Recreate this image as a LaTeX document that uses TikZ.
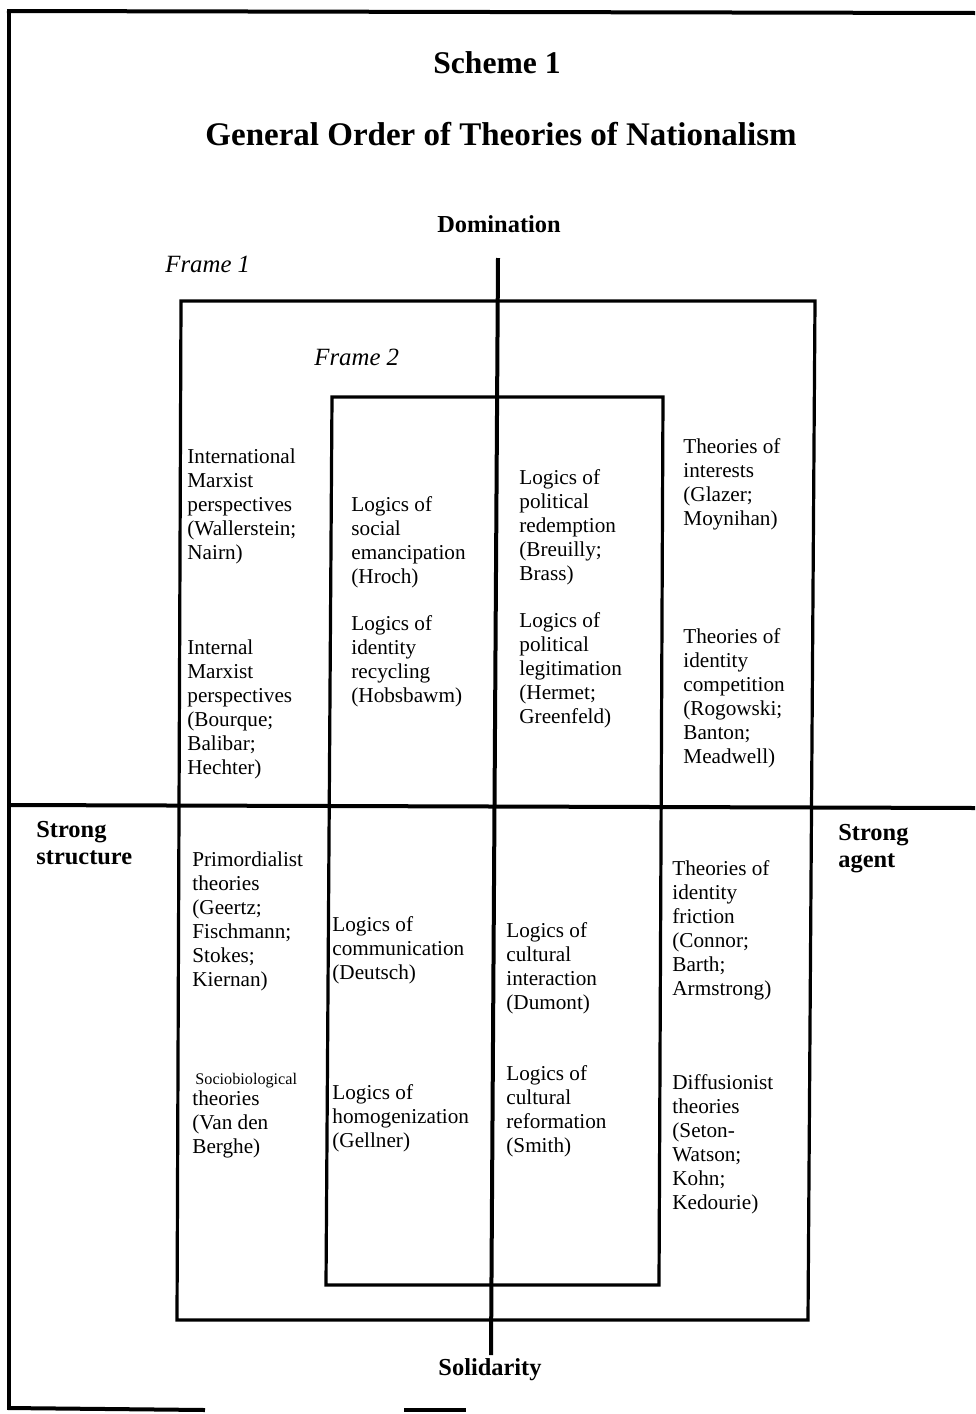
\documentclass[tikz,border=0pt]{standalone}
\usepackage{fontspec}
\setmainfont{Liberation Serif}
\begin{document}
\begin{tikzpicture}[x=0.5pt,y=-0.5pt,
  body/.style={anchor=base west,align=left,inner sep=0pt,font=\fontsize{10.6}{12}\selectfont},
  axislbl/.style={inner sep=0pt,font=\fontsize{12.2}{13.5}\selectfont\bfseries},
  framelbl/.style={anchor=base west,inner sep=0pt,font=\fontsize{12.4}{14}\selectfont\itshape},
  axisline/.style={line width=2pt},
  frameline/.style={line width=1.6pt,line join=miter},
  borderline/.style={line width=2pt}]
\useasboundingbox (0,0) rectangle (975,1414);
% outer border
\draw[borderline] (7,11) -- (975,13);
\draw[borderline] (9,10) -- (9,1410);
\draw[borderline] (8,1408) -- (205,1410);
\draw[borderline] (404,1410) -- (466,1410);
% titles
\node[inner sep=0pt,font=\fontsize{15.8}{18}\selectfont\bfseries] (scheme) at (497,63) {Scheme 1};
\node[inner sep=0pt,font=\fontsize{16.5}{19}\selectfont\bfseries] (title) at (501,134) {General Order of Theories of Nationalism};
\node[axislbl] (dom) at (499,224) {Domination};
\node[axislbl] (sol) at (490,1370) {Solidarity};
\node[axislbl,anchor=base west,align=left] (sstruct) at (36,864) {Strong\\structure};
\node[axislbl,anchor=base west,align=left] (sagent) at (838,867) {Strong\\agent};
\node[framelbl] (f1) at (165,272) {Frame 1};
\node[framelbl] (f2) at (314,365) {Frame 2};
% frames
\draw[frameline] (181,301) -- (815,301) -- (808,1320) -- (177,1320) -- cycle;
\draw[frameline] (332,397) -- (663,397) -- (659,1285) -- (326,1285) -- cycle;
% axes
\coordinate (vtop) at (498,258);
\coordinate (vbot) at (491,1355);
\coordinate (hleft) at (9,805);
\coordinate (hright) at (975,808);
\draw[axisline] (vtop) -- (vbot);
\draw[axisline] (hleft) -- (hright);
% upper left (anchor = baseline of last line)
\node[body] (t1) at (187,559) {International\\Marxist\\perspectives\\(Wallerstein;\\Nairn)};
\node[body] (t2) at (187,774) {Internal\\Marxist\\perspectives\\(Bourque;\\Balibar;\\Hechter)};
\node[body] (t3) at (351,583) {Logics of\\social\\emancipation\\(Hroch)};
\node[body] (t4) at (351,702) {Logics of\\identity\\recycling\\(Hobsbawm)};
% upper right
\node[body] (t5) at (519,580) {Logics of\\political\\redemption\\(Breuilly;\\Brass)};
\node[body] (t6) at (519,723) {Logics of\\political\\legitimation\\(Hermet;\\Greenfeld)};
\node[body] (t7) at (683,525) {Theories of\\interests\\(Glazer;\\Moynihan)};
\node[body] (t8) at (683,763) {Theories of\\identity\\competition\\(Rogowski;\\Banton;\\Meadwell)};
% lower left
\node[body] (t9) at (192,986) {Primordialist\\theories\\(Geertz;\\Fischmann;\\Stokes;\\Kiernan)};
\node[body,font=\fontsize{8.1}{10}\selectfont] (t10a) at (195,1084) {Sociobiological};
\node[body] (t10) at (192,1153) {theories\\(Van den\\Berghe)};
\node[body] (t11) at (332,979) {Logics of\\communication\\(Deutsch)};
\node[body] (t12) at (332,1147) {Logics of\\homogenization\\(Gellner)};
% lower right
\node[body] (t13) at (506,1009) {Logics of\\cultural\\interaction\\(Dumont)};
\node[body] (t14) at (506,1152) {Logics of\\cultural\\reformation\\(Smith)};
\node[body] (t15) at (672,995) {Theories of\\identity\\friction\\(Connor;\\Barth;\\Armstrong)};
\node[body] (t16) at (672,1209) {Diffusionist\\theories\\(Seton-\\Watson;\\Kohn;\\Kedourie)};
\end{tikzpicture}
\end{document}
